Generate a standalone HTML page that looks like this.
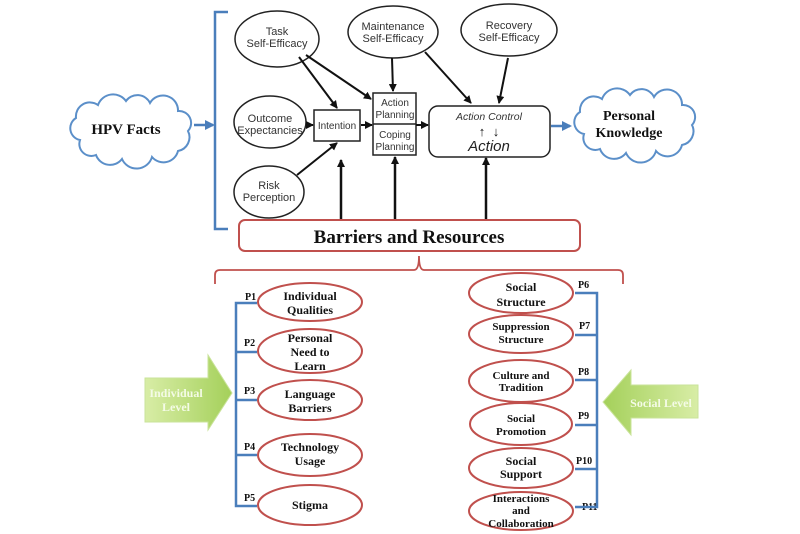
<!DOCTYPE html>
<html><head><meta charset="utf-8"><style>
body{margin:0;background:#fff}
svg{display:block}
.s{font-family:"Liberation Sans",sans-serif;font-size:11px;fill:#333}
.b{font-family:"Liberation Serif",serif;font-weight:bold;fill:#111}
</style></head><body>
<svg width="800" height="534" viewBox="0 0 800 534" xmlns="http://www.w3.org/2000/svg">
<defs>
<marker id="a" markerWidth="8" markerHeight="8" refX="7" refY="4" orient="auto" markerUnits="userSpaceOnUse"><path d="M0,0 L8,4 L0,8 z" fill="#111"/></marker>
<marker id="ab" markerWidth="10" markerHeight="10" refX="8" refY="5" orient="auto" markerUnits="userSpaceOnUse"><path d="M0,0 L10,5 L0,10 z" fill="#4a7ebb"/></marker>
<linearGradient id="g" x1="0" y1="0" x2="1" y2="0"><stop offset="0" stop-color="#d8eda6"/><stop offset="1" stop-color="#a4d05a"/></linearGradient>
<linearGradient id="g2" x1="1" y1="0" x2="0" y2="0"><stop offset="0" stop-color="#d8eda6"/><stop offset="1" stop-color="#a4d05a"/></linearGradient>
</defs>
<path d="M228,12 H215 V229 H228" fill="none" stroke="#4a7ebb" stroke-width="2.5"/>
<path d="M80,140 a12,12 0 0 1 -4,-22 a14,14 0 0 1 22,-13 a16,16 0 0 1 28,-4 a14,14 0 0 1 24,2 a15,15 0 0 1 28,8 a12,12 0 0 1 10,20 a14,14 0 0 1 -10,20 a15,15 0 0 1 -26,6 a16,16 0 0 1 -30,2 a15,15 0 0 1 -26,-4 a12,12 0 0 1 -16,-15 z" fill="#fff" stroke="#5b8fc9" stroke-width="2"/>
<text x="126" y="134" text-anchor="middle" class="b" font-size="15">HPV Facts</text>
<line x1="194" y1="125" x2="213" y2="125" stroke="#4a7ebb" stroke-width="2.5" marker-end="url(#ab)"/>
<g transform="translate(504,-6)"><path d="M80,140 a12,12 0 0 1 -4,-22 a14,14 0 0 1 22,-13 a16,16 0 0 1 28,-4 a14,14 0 0 1 24,2 a15,15 0 0 1 28,8 a12,12 0 0 1 10,20 a14,14 0 0 1 -10,20 a15,15 0 0 1 -26,6 a16,16 0 0 1 -30,2 a15,15 0 0 1 -26,-4 a12,12 0 0 1 -16,-15 z" fill="#fff" stroke="#5b8fc9" stroke-width="2"/></g>
<text x="629" y="120" text-anchor="middle" class="b" font-size="14">Personal</text>
<text x="629" y="137" text-anchor="middle" class="b" font-size="14">Knowledge</text>
<line x1="551" y1="126" x2="570" y2="126" stroke="#4a7ebb" stroke-width="2.5" marker-end="url(#ab)"/>
<g fill="#fff" stroke="#222" stroke-width="1.5">
<ellipse cx="277" cy="39" rx="42" ry="28"/>
<ellipse cx="393" cy="32" rx="45" ry="26"/>
<ellipse cx="509" cy="30" rx="48" ry="26"/>
<ellipse cx="270" cy="122" rx="36" ry="26"/>
<ellipse cx="269" cy="192" rx="35" ry="26"/>
<rect x="314" y="110" width="46" height="31"/>
<rect x="373" y="93" width="43" height="62"/>
<line x1="373" y1="124" x2="416" y2="124"/>
<rect x="429" y="106" width="121" height="51" rx="9"/>
</g>
<g class="s" text-anchor="middle">
<text x="277" y="35">Task</text><text x="277" y="47">Self-Efficacy</text>
<text x="393" y="30">Maintenance</text><text x="393" y="42">Self-Efficacy</text>
<text x="509" y="29">Recovery</text><text x="509" y="41">Self-Efficacy</text>
<text x="270" y="122">Outcome</text><text x="270" y="134">Expectancies</text>
<text x="269" y="189">Risk</text><text x="269" y="201">Perception</text>
<text x="337" y="129" font-size="10">Intention</text>
<text x="395" y="106" font-size="10">Action</text><text x="395" y="118" font-size="10">Planning</text>
<text x="395" y="138" font-size="10">Coping</text><text x="395" y="150" font-size="10">Planning</text>
<text x="489" y="120" font-style="italic" font-size="10.5">Action Control</text>
<text x="489" y="151" font-style="italic" font-size="15" fill="#222">Action</text>
<text x="482" y="136" font-size="13" fill="#111">↑</text><text x="496" y="136" font-size="13" fill="#111">↓</text>
</g>
<g stroke="#111" stroke-width="2" fill="none" marker-end="url(#a)">
<line x1="299" y1="57" x2="337" y2="108"/>
<line x1="306" y1="55" x2="371" y2="99"/>
<line x1="392" y1="58" x2="393" y2="91"/>
<line x1="425" y1="52" x2="471" y2="103"/>
<line x1="508" y1="58" x2="499" y2="103"/>
<line x1="306" y1="125" x2="313" y2="125"/>
<line x1="361" y1="125" x2="372" y2="125"/>
<line x1="416" y1="125" x2="428" y2="125"/>
<line x1="297" y1="175" x2="337" y2="143"/>
</g>
<g stroke="#111" stroke-width="2.5" fill="none" marker-end="url(#a)">
<line x1="341" y1="220" x2="341" y2="160"/>
<line x1="395" y1="220" x2="395" y2="157"/>
<line x1="486" y1="220" x2="486" y2="158"/>
</g>
<rect x="239" y="220" width="341" height="31" rx="6" fill="#fff" stroke="#c0504d" stroke-width="2"/>
<text x="409" y="243" text-anchor="middle" class="b" font-size="19">Barriers and Resources</text>
<path d="M215,284 V275 Q215,270 220,270 H414 Q419,270 419,256 Q419,270 424,270 H618 Q623,270 623,275 V284" fill="none" stroke="#c0504d" stroke-width="1.8"/>
<path d="M257,303 H236 V506 H257 M236,352 H257 M236,400 H257 M236,455 H257" fill="none" stroke="#4a7ebb" stroke-width="2.5"/>
<g fill="#fff" stroke="#c0504d" stroke-width="2">
<ellipse cx="310" cy="302" rx="52" ry="19"/>
<ellipse cx="310" cy="351" rx="52" ry="22"/>
<ellipse cx="310" cy="400" rx="52" ry="20"/>
<ellipse cx="310" cy="455" rx="52" ry="21"/>
<ellipse cx="310" cy="505" rx="52" ry="20"/>
<ellipse cx="521" cy="293" rx="52" ry="20"/>
<ellipse cx="521" cy="334" rx="52" ry="19"/>
<ellipse cx="521" cy="381" rx="52" ry="21"/>
<ellipse cx="521" cy="424" rx="51" ry="21"/>
<ellipse cx="521" cy="468" rx="52" ry="20"/>
<ellipse cx="521" cy="511" rx="52" ry="19"/>
</g>
<g class="b" font-size="12" text-anchor="middle">
<text x="310" y="300">Individual</text><text x="310" y="314">Qualities</text>
<text x="310" y="342">Personal</text><text x="310" y="356">Need to</text><text x="310" y="370">Learn</text>
<text x="310" y="398">Language</text><text x="310" y="412">Barriers</text>
<text x="310" y="451">Technology</text><text x="310" y="465">Usage</text>
<text x="310" y="509">Stigma</text>
<text x="521" y="291">Social</text><text x="521" y="306">Structure</text>
<text x="521" y="330" font-size="11">Suppression</text><text x="521" y="343" font-size="11">Structure</text>
<text x="521" y="379" font-size="11">Culture and</text><text x="521" y="391" font-size="11">Tradition</text>
<text x="521" y="422" font-size="11">Social</text><text x="521" y="435" font-size="11">Promotion</text>
<text x="521" y="465">Social</text><text x="521" y="478">Support</text>
<text x="521" y="502" font-size="11">Interactions</text><text x="521" y="514" font-size="11">and</text><text x="521" y="527" font-size="11">Collaboration</text>
</g>
<g class="b" font-size="10">
<text x="245" y="300">P1</text><text x="244" y="346">P2</text><text x="244" y="394">P3</text><text x="244" y="450">P4</text><text x="244" y="501">P5</text>
<text x="578" y="288">P6</text><text x="579" y="329">P7</text><text x="578" y="375">P8</text><text x="578" y="419">P9</text><text x="576" y="464">P10</text><text x="582" y="510">P11</text>
</g>
<path d="M575,293 H597 V507 H575 M575,335 H597 M575,380 H597 M575,425 H597 M575,469 H597" fill="none" stroke="#4a7ebb" stroke-width="2.5"/>
<path d="M145,378 H208 V355 L232,393 L208,430 V422 H145 z" fill="url(#g)" stroke="#c9e39a"/>
<text x="176" y="397" text-anchor="middle" class="b" font-size="12" style="fill:#f4fbe6">Individual</text>
<text x="176" y="411" text-anchor="middle" class="b" font-size="12" style="fill:#f4fbe6">Level</text>
<path d="M698,385 H631 V370 L603,402 L631,435 V418 H698 z" fill="url(#g2)" stroke="#c9e39a"/>
<text x="661" y="407" text-anchor="middle" class="b" font-size="12" style="fill:#f4fbe6">Social Level</text>
</svg>
</body></html>
